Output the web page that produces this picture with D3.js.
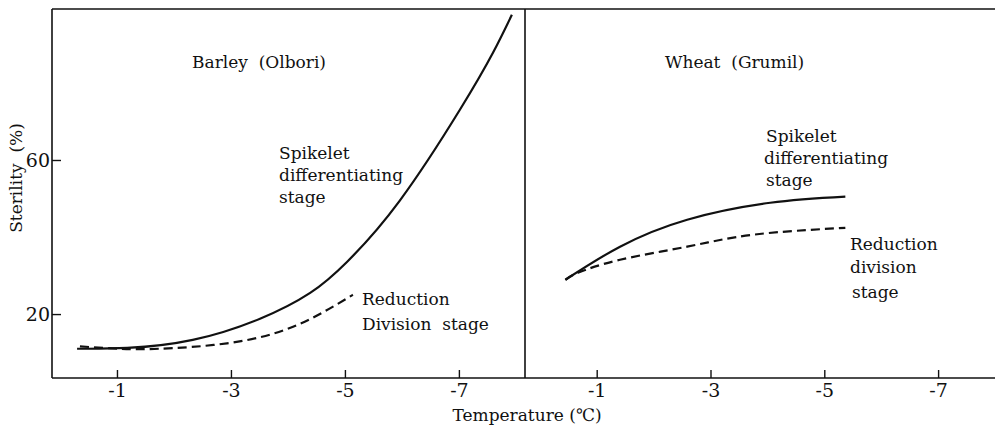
<!DOCTYPE html>
<html>
<head>
<meta charset="utf-8">
<script src="https://cdn.jsdelivr.net/npm/d3@7"></script>
<style>
  html, body { margin: 0; padding: 0; background: #fff; }
  svg text { font-family: "DejaVu Serif", "Liberation Serif", serif; fill: #111; }
</style>
</head>
<body>
<svg id="chart" width="995" height="427"></svg>
<script>
// ---- data ----
const xTickValues = [-1, -3, -5, -7];
const xTickLabels = ["-1", "-3", "-5", "-7"];
const yTickValues = [20, 60];
const yTickLabels = ["20", "60"];

// Barley (Olbori)
const barleySpikeletTemp = [-0.30, -1.18, -2.33, -3.51, -4.39, -5.04, -5.96, -7.02, -7.60, -7.93];
const barleySpikeletSter = [11.0, 11.2, 13.3, 18.8, 25.5, 33.6, 49.4, 73.1, 87.9, 97.7];
const barleyReductionTemp = [-0.35, -1.05, -1.75, -2.93, -4.09, -5.14];
const barleyReductionSter = [11.6, 11.0, 11.0, 12.4, 16.7, 25.0];

// Wheat (Grumil)
const wheatSpikeletTemp = [-0.45, -1.41, -2.59, -4.05, -5.37];
const wheatSpikeletSter = [28.9, 37.5, 44.5, 48.9, 50.5];
const wheatReductionTemp = [-0.45, -0.67, -1.41, -2.59, -3.75, -5.37];
const wheatReductionSter = [28.9, 30.7, 34.1, 37.5, 40.6, 42.4];

const leftDomain = [0.14, -8.16];
const rightDomain = [0.26, -8.0];
const yDomain = [3.4, 99.2];

// ---- layout ----
const svg = d3.select("#chart");
const L = 52, M = 525, R = 995, T = 9, B = 378;

const xL = d3.scaleLinear().domain(leftDomain).range([L, M]);
const xR = d3.scaleLinear().domain(rightDomain).range([M, R]);
const y = d3.scaleLinear().domain(yDomain).range([B, T]);

const zip = (a, b) => a.map((v, i) => [v, b[i]]);

// frame
const frame = svg.append("g").attr("stroke", "#111").attr("stroke-width", 1.6).attr("fill", "none");
frame.append("line").attr("x1", L).attr("x2", R).attr("y1", T).attr("y2", T);
frame.append("line").attr("x1", L).attr("x2", R).attr("y1", B).attr("y2", B);
frame.append("line").attr("x1", L).attr("x2", L).attr("y1", T).attr("y2", B);
frame.append("line").attr("x1", M).attr("x2", M).attr("y1", T).attr("y2", B);

// x axes (inward ticks)
function xAxis(scale) {
  const g = svg.append("g").attr("transform", `translate(0,${B})`)
    .call(d3.axisBottom(scale).tickValues(xTickValues)
      .tickFormat((d, i) => xTickLabels[i]).tickSize(-8).tickPadding(6));
  g.select(".domain").remove();
  g.selectAll(".tick line").attr("stroke", "#111").attr("stroke-width", 1.4);
  g.selectAll(".tick text").attr("font-size", 19).attr("fill", "#111")
    .attr("font-family", "Liberation Serif, serif");
}
xAxis(xL);
xAxis(xR);

// y axis (inward ticks)
const gy = svg.append("g").attr("transform", `translate(${L},0)`)
  .call(d3.axisLeft(y).tickValues(yTickValues)
    .tickFormat((d, i) => yTickLabels[i]).tickSize(-9).tickPadding(2));
gy.select(".domain").remove();
gy.selectAll(".tick line").attr("stroke", "#111").attr("stroke-width", 1.4);
gy.selectAll(".tick text").attr("font-size", 19).attr("fill", "#111")
  .attr("font-family", "Liberation Serif, serif");

// curves
function curve(xs, temps, sters, dashed) {
  const line = d3.line().x(d => xs(d[0])).y(d => y(d[1])).curve(d3.curveNatural);
  svg.append("path").datum(zip(temps, sters))
    .attr("d", line).attr("fill", "none").attr("stroke", "#111")
    .attr("stroke-width", 2.2)
    .attr("stroke-dasharray", dashed ? "9,5" : null);
}
curve(xL, barleySpikeletTemp, barleySpikeletSter, false);
curve(xL, barleyReductionTemp, barleyReductionSter, true);
curve(xR, wheatSpikeletTemp, wheatSpikeletSter, false);
curve(xR, wheatReductionTemp, wheatReductionSter, true);

// text annotations
function label(x, yy, s) {
  svg.append("text").attr("x", x).attr("y", yy).attr("font-size", 17)
    .style("white-space", "pre").text(s);
}
label(192, 68, "Barley  (Olbori)");
label(665, 68, "Wheat  (Grumil)");
label(279, 159, "Spikelet");
label(279, 181, "differentiating");
label(279, 203, "stage");
label(362, 305, "Reduction");
label(362, 330, "Division  stage");
label(766, 142, "Spikelet");
label(764, 164, "differentiating");
label(766, 186, "stage");
label(850, 250, "Reduction");
label(850, 273, "division");
label(852, 298, "stage");

// axis titles
svg.append("text").attr("x", 527).attr("y", 421).attr("text-anchor", "middle")
  .attr("font-size", 17).style("white-space", "pre").text("Temperature (\u2103)");
svg.append("text").attr("transform", "translate(22,178) rotate(-90)")
  .attr("text-anchor", "middle").attr("font-size", 17).style("white-space", "pre")
  .text("Sterility  (%)");
</script>
</body>
</html>
